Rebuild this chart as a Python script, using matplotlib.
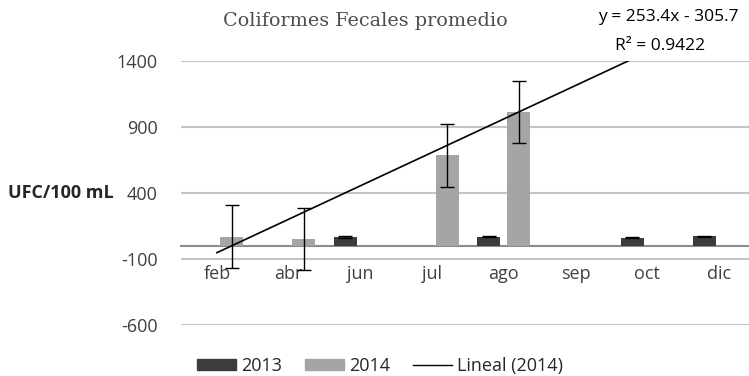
import numpy as np
import matplotlib
matplotlib.use("Agg")
import matplotlib.pyplot as plt
from matplotlib.patches import Patch
from matplotlib.lines import Line2D

plt.rcParams['font.family'] = ['Open Sans', 'DejaVu Sans']

# Monthly averages (UFC/100 mL) and their error bars
months = ['feb', 'abr', 'jun', 'jul', 'ago', 'sep', 'oct', 'dic']
vals_2013 = [np.nan, np.nan, 65, np.nan, 70, np.nan, 60, 72]
err_2013 = [0, 0, 6, 0, 3, 0, 3, 6]
vals_2014 = [70, 55, np.nan, 685, 1015, np.nan, np.nan, np.nan]
err_2014 = [240, 235, 0, 237, 233, 0, 0, 0]

# Linear trend of the 2014 series
slope, intercept = 253.4, -305.7
r2 = 0.9422

y_ticks = [1400, 900, 400, -100, -600]

W, H = 749, 376
fig = plt.figure(figsize=(W / 100, H / 100), dpi=100)
ax = fig.add_axes([181 / W, 1 - 325 / H, 574 / W, 264 / H])

# Category axis runs along y = 0
for s in ['top', 'right', 'left']:
    ax.spines[s].set_visible(False)
ax.spines['bottom'].set_position(('data', 0))
ax.spines['bottom'].set_color('#8c8c8c')
ax.spines['bottom'].set_linewidth(1.5)
ax.spines['bottom'].set_zorder(2)

x = np.arange(1, len(months) + 1)
bw = 0.32
off = 0.21
c13 = '#3c3c3c'
c14 = '#a5a5a5'

ax.bar(x - off, vals_2013, width=bw, color=c13, zorder=3)
ax.bar(x + off, vals_2014, width=bw, color=c14, zorder=3)

v13 = np.array(vals_2013, dtype=float)
v14 = np.array(vals_2014, dtype=float)
m13 = ~np.isnan(v13)
m14 = ~np.isnan(v14)
ax.errorbar((x - off)[m13], v13[m13], yerr=np.array(err_2013)[m13],
            fmt='none', ecolor='black', elinewidth=1, capsize=5, capthick=1, zorder=4)
ax.errorbar((x + off)[m14], v14[m14], yerr=np.array(err_2014)[m14],
            fmt='none', ecolor='black', elinewidth=1, capsize=5, capthick=1, zorder=4)

xt = np.array([1, len(months)], dtype=float)
ax.plot(xt, slope * xt + intercept, color='black', lw=1.2, zorder=5)

ax.set_xlim(0.5, len(months) + 0.5)
ax.set_ylim(-600, 1400)
ax.set_yticks(y_ticks)
ax.set_yticklabels([str(v) for v in y_ticks])
ax.grid(axis='y', color='#c4c4c4', lw=1.5, zorder=0)
ax.tick_params(axis='y', length=0, pad=17, labelsize=13, labelcolor='#404040')

ax.set_xticks(x)
ax.set_xticklabels(months)
ax.tick_params(axis='x', length=0, pad=14, labelsize=13, labelcolor='#404040')

fig.text(8 / W, 1 - 193 / H, 'UFC/100 mL', fontsize=13, fontweight='bold',
         color='#262626', ha='left', va='center')

fig.text(365 / W, 1 - 21 / H, 'Coliformes Fecales promedio', fontsize=13.8,
         family=['DejaVu Serif'], color='#4d4d4d', ha='center', va='center')

fig.text(668 / W, 1 - 17 / H, f'y = {slope}x - {abs(intercept)}', fontsize=12.5,
         color='black', ha='center', va='center')
fig.text(660 / W, 1 - 46 / H, f'R² = {r2}', fontsize=12.5,
         color='black', ha='center', va='center')

handles = [Patch(color=c13), Patch(color=c14), Line2D([], [], color='black', lw=1)]
fig.legend(handles, ['2013', '2014', 'Lineal (2014)'], loc='center left',
           bbox_to_anchor=(190 / W, 1 - 366 / H), ncol=3, frameon=False,
           fontsize=13, handlelength=2.15, handleheight=0.55, handletextpad=0.3,
           columnspacing=1.25, labelcolor='#262626', borderaxespad=0)

fig.savefig('out.png', dpi=100)
